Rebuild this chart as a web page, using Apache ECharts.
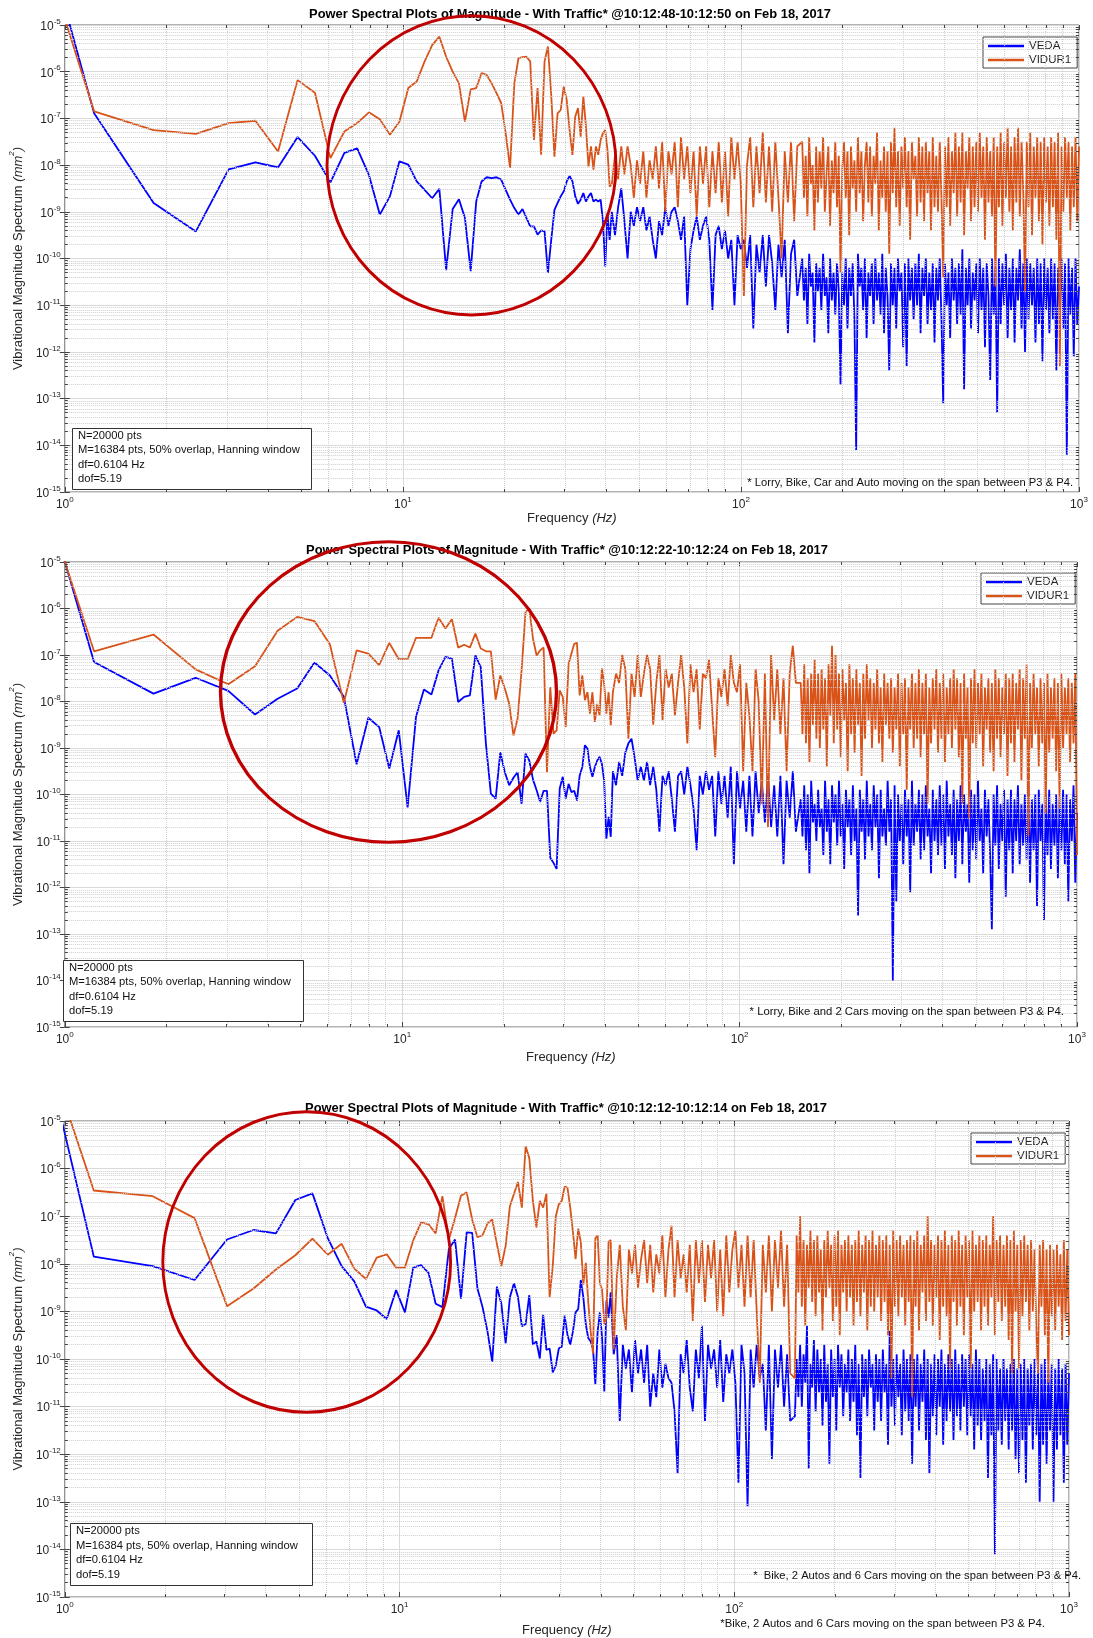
<!DOCTYPE html>
<html>
<head>
<meta charset="utf-8">
<title>Power Spectral Plots of Magnitude</title>
<script src="https://cdn.jsdelivr.net/npm/echarts/dist/echarts.min.js"></script>
<style>
html, body { margin: 0; padding: 0; background: #fff; }
#psd { width: 1093px; height: 1638px; }
</style>
</head>
<body>
<div id="psd"></div>
<script>
// frequency resolution of the Welch PSD (Hz), bin k sits at k*df
var df = 0.6104
// the dense part is split at this frequency (Hz)
var splitHz = 150

// log10 of the PSD (mm^2)
// Low: one value per bin k = 1, 2, 3 ... (resolved part of the curve)
// Mid: next bin up to 150 Hz, Top: 150 Hz to 1 kHz (both evenly spaced on the log axis)
var p1VedaLow = [1.05, -6.89, -8.81, -9.42, -8.09, -7.94, -8.05, -7.40, -7.80, -8.37,
    -7.74, -7.64, -8.21, -9.06, -8.67, -7.92, -7.99, -8.35, -8.53, -8.71,
    -8.51, -10.25, -8.94, -8.73, -9.13, -10.27, -8.78, -8.35, -8.26, -8.28,
    -8.26, -8.31, -8.53, -8.74, -8.92, -9.06, -8.94, -9.13, -9.31, -9.31,
    -9.49, -9.40, -9.42, -10.31, -9.60, -8.96, -8.81, -8.67, -8.56, -8.35,
    -8.23, -8.35, -8.67, -8.83, -8.74, -8.60, -8.78, -8.67, -8.60, -8.78,
    -8.74, -8.78, -8.74, -9.20, -10.17, -9.03, -9.60]
var p1VidurLow = [0.03, -6.85, -7.25, -7.33, -7.10, -7.05, -7.71, -6.18, -6.45, -7.85,
    -7.28, -7.10, -6.87, -7.02, -7.35, -7.07, -6.35, -6.21, -5.78, -5.43,
    -5.25, -5.68, -6.00, -6.25, -7.07, -6.38, -6.35, -6.03, -6.07, -6.25,
    -6.46, -6.67, -7.32, -8.06, -6.25, -5.71, -5.69, -5.68, -5.78, -7.46,
    -6.35, -7.78, -5.78, -5.46, -6.50, -7.82, -6.89, -6.82, -6.32, -6.60,
    -7.25, -7.78, -6.96, -6.78, -7.39, -6.53, -7.17, -8.03, -7.60, -8.10,
    -7.60, -7.78, -7.46, -7.32, -7.25, -7.67, -8.46]
var p1VedaMid = [-9.0, -9.5, -8.9, -8.5, -9.2, -10.0, -9.0, -9.3, -8.9, -9.2,
    -8.9, -9.4, -9.1, -9.6, -10.0, -9.2, -9.5, -8.9, -9.3, -9.0,
    -8.9, -9.2, -9.6, -9.1, -11.0, -9.8, -9.4, -9.1, -9.6, -9.3,
    -9.1, -9.6, -11.1, -9.5, -9.3, -9.8, -9.4, -10.0, -9.6, -11.0,
    -9.5, -9.8, -9.6, -10.2, -9.5, -11.5, -9.7, -10.3, -9.5, -10.6,
    -9.5, -10.1, -11.1, -9.7, -10.4, -9.6, -11.6, -9.9, -9.6, -10.8]
var p1VidurMid = [-8.4, -7.8, -8.3, -7.6, -8.2, -7.6, -8.0, -8.7, -7.9, -8.4,
    -7.7, -8.7, -7.9, -8.3, -7.6, -8.5, -7.5, -9.0, -7.7, -8.2,
    -7.5, -8.9, -7.4, -8.3, -7.6, -8.6, -7.7, -9.1, -7.6, -8.4,
    -7.6, -8.9, -7.7, -8.6, -7.5, -8.8, -7.7, -9.1, -7.4, -8.3,
    -7.5, -8.4, -10.8, -8.0, -7.4, -8.9, -7.6, -8.6, -7.3, -8.8,
    -7.6, -9.0, -7.5, -8.7, -10.0, -7.7, -8.8, -7.5, -9.2, -7.6]
var p1VedaTop = [-10.0, -10.9, -10.2, -11.4, -9.9, -10.6, -10.3, -11.8, -10.1, -10.7,
    -10.2, -11.1, -9.9, -10.8, -10.4, -11.6, -10.0, -10.9, -10.3, -11.2,
    -10.1, -10.7, -12.7, -10.3, -11.0, -10.0, -11.5, -10.2, -10.8, -10.1,
    -11.3, -14.1, -9.9, -10.6, -10.2, -11.1, -10.0, -11.7, -10.3, -10.8,
    -10.1, -11.4, -10.0, -10.9, -10.3, -11.2, -9.9, -11.6, -10.2, -10.8,
    -12.4, -10.1, -11.0, -10.2, -11.5, -10.0, -10.7, -10.3, -11.9, -10.1,
    -12.3, -10.0, -10.9, -10.2, -11.3, -10.1, -11.0, -9.9, -11.6, -10.2,
    -10.8, -10.0, -11.4, -10.3, -11.1, -10.1, -11.8, -10.2, -10.9, -10.0,
    -11.3, -13.1, -10.1, -11.0, -10.3, -11.7, -10.0, -10.9, -10.2, -11.4,
    -10.1, -11.2, -9.8, -12.8, -10.2, -11.0, -10.0, -11.5, -10.3, -10.9,
    -10.1, -11.6, -10.0, -11.1, -10.2, -11.9, -10.1, -10.8, -12.6, -10.0,
    -11.2, -10.2, -13.3, -10.0, -11.4, -10.1, -11.0, -9.9, -11.7, -10.2,
    -11.1, -10.0, -11.8, -10.2, -10.9, -9.8, -11.5, -10.1, -12.0, -10.0,
    -11.3, -10.1, -11.0, -10.2, -11.8, -10.0, -11.4, -10.1, -12.2, -10.0,
    -11.1, -10.2, -11.6, -10.0, -11.3, -10.1, -12.4, -10.2, -11.0, -10.0,
    -11.5, -10.1, -14.2, -10.0, -11.2, -10.2, -12.1, -10.0, -11.4, -10.6]
var p1VidurTop = [-7.5, -8.7, -7.8, -9.1, -7.4, -8.4, -8.0, -9.4, -7.6, -8.8,
    -7.7, -8.5, -7.4, -9.0, -8.2, -7.6, -9.3, -7.9, -8.6, -7.5,
    -8.9, -7.8, -10.3, -8.1, -7.5, -8.7, -7.7, -9.5, -7.6, -8.5,
    -7.9, -9.0, -7.4, -8.6, -7.7, -9.2, -8.0, -7.5, -8.8, -7.6,
    -9.1, -7.8, -8.4, -7.3, -9.4, -7.9, -8.7, -7.6, -9.0, -7.7,
    -9.9, -7.5, -8.6, -7.2, -8.9, -7.7, -9.3, -7.6, -8.5, -7.4,
    -8.9, -7.7, -9.6, -7.5, -8.3, -7.8, -9.1, -7.4, -8.8, -7.6,
    -9.2, -7.5, -8.6, -7.7, -9.4, -7.4, -8.9, -7.8, -9.0, -7.5,
    -8.7, -10.4, -7.6, -8.9, -7.4, -9.3, -7.7, -8.6, -7.3, -9.1,
    -7.6, -8.8, -7.3, -9.5, -7.7, -8.5, -7.4, -9.2, -7.6, -8.9,
    -7.5, -9.0, -7.3, -8.7, -7.6, -9.6, -7.4, -8.8, -7.7, -9.1,
    -7.4, -10.6, -7.6, -8.9, -7.3, -9.3, -7.5, -8.7, -7.2, -9.0,
    -7.6, -9.4, -7.4, -8.8, -7.2, -9.1, -7.5, -8.6, -10.7, -7.5,
    -8.9, -7.3, -9.5, -7.6, -8.7, -7.4, -9.2, -7.5, -9.7, -7.4,
    -8.8, -7.6, -9.3, -7.4, -8.9, -7.5, -9.6, -7.3, -12.3, -7.6,
    -9.0, -7.4, -8.7, -7.5, -9.4, -7.6, -8.9, -7.4, -9.2, -7.6]

var p2VedaLow = [0.34, -7.15, -7.83, -7.49, -7.77, -8.28, -7.94, -7.72, -7.16, -7.44,
    -7.90, -9.35, -8.35, -8.55, -9.44, -8.62, -10.28, -8.33, -7.74, -7.85,
    -7.33, -7.04, -7.08, -8.01, -7.90, -7.87, -7.01, -7.26, -8.90, -9.98,
    -10.09, -9.09, -9.52, -9.80, -9.64, -9.52, -10.20, -9.12, -9.27, -9.68,
    -9.91, -10.16, -9.92, -9.92, -11.36, -11.47, -11.60, -9.87, -9.62, -10.09,
    -9.77, -9.95, -9.92, -10.13, -9.59, -9.41, -8.94, -9.01, -9.41, -9.62,
    -9.41, -9.27, -9.19, -9.34, -9.70, -10.95, -10.48, -10.91]
var p2VidurLow = [-0.23, -6.92, -6.56, -7.31, -7.63, -7.24, -6.48, -6.18, -6.27, -6.77,
    -8.03, -6.90, -6.97, -7.22, -6.74, -7.09, -7.09, -6.63, -6.63, -6.63,
    -6.20, -6.43, -6.23, -6.84, -6.78, -6.84, -6.54, -6.86, -6.92, -6.92,
    -7.96, -7.44, -7.72, -8.05, -8.73, -8.37, -7.33, -6.08, -6.00, -6.65,
    -7.01, -6.90, -6.84, -9.52, -7.69, -8.69, -8.62, -7.76, -7.90, -8.55,
    -7.19, -6.97, -6.76, -6.74, -7.87, -7.44, -7.97, -7.80, -8.26, -7.80,
    -8.44, -8.05, -8.30, -7.29, -7.62, -8.26, -7.80, -8.51]
var p2VedaMid = [-9.5, -9.8, -9.3, -9.6, -9.1, -8.9, -8.8, -9.2, -9.7, -9.4,
    -9.7, -9.3, -9.8, -9.4, -9.9, -10.8, -9.6, -9.8, -9.5, -10.1,
    -10.8, -9.6, -9.5, -10.0, -9.4, -9.8, -10.3, -11.2, -9.6, -10.0,
    -9.5, -9.9, -9.6, -10.9, -9.5, -10.2, -9.6, -10.5, -9.4, -11.5,
    -9.5, -10.3, -9.7, -10.8, -9.6, -10.9, -9.5, -10.4, -9.7, -10.6,
    -9.6, -10.7, -9.8, -10.9, -9.6, -11.5, -9.7, -10.5, -9.5, -10.8]
var p2VidurMid = [-7.8, -7.4, -7.6, -7.0, -7.3, -8.8, -7.4, -7.9, -7.0, -7.9,
    -7.4, -7.0, -7.3, -8.5, -7.6, -7.0, -8.4, -7.3, -7.7, -7.4,
    -8.3, -7.6, -7.0, -7.7, -8.9, -7.2, -7.8, -7.3, -8.6, -7.4,
    -7.5, -7.1, -8.2, -9.2, -7.5, -7.9, -7.3, -8.1, -7.0, -7.6,
    -7.8, -7.2, -9.5, -7.6, -8.3, -9.5, -7.3, -8.0, -10.2, -7.4,
    -10.7, -7.0, -8.4, -7.3, -8.7, -7.5, -9.5, -7.4, -6.8, -7.6]
var p2VedaTop = [-10.1, -10.9, -9.8, -11.2, -10.0, -11.7, -9.7, -10.6, -10.2, -11.0,
    -9.9, -10.7, -10.3, -11.3, -9.7, -10.8, -10.1, -11.5, -9.8, -10.6,
    -10.0, -11.1, -9.7, -10.9, -10.2, -11.6, -9.9, -10.7, -10.1, -11.3,
    -9.8, -11.0, -10.3, -12.6, -9.9, -10.8, -10.1, -11.4, -9.7, -10.9,
    -10.2, -11.2, -9.8, -10.7, -10.0, -11.8, -9.9, -10.9, -10.3, -11.1,
    -9.7, -10.8, -10.1, -14.0, -9.8, -12.3, -10.0, -11.0, -10.2, -11.5,
    -9.9, -10.9, -10.1, -12.1, -9.7, -11.1, -10.2, -10.8, -9.9, -11.4,
    -10.0, -11.2, -9.8, -10.9, -10.3, -11.7, -9.9, -11.0, -10.1, -11.3,
    -9.8, -11.1, -10.0, -11.6, -9.7, -10.9, -10.2, -11.3, -9.9, -11.8,
    -10.1, -11.0, -9.8, -11.5, -10.0, -10.8, -10.2, -11.9, -9.9, -11.2,
    -10.0, -11.4, -9.7, -11.0, -10.3, -11.7, -9.9, -10.9, -10.1, -11.3,
    -12.9, -10.0, -11.1, -9.8, -11.6, -10.2, -11.0, -9.9, -12.2, -10.1,
    -11.2, -9.9, -11.7, -10.1, -11.0, -9.8, -11.5, -10.2, -11.1, -10.0,
    -11.4, -9.8, -11.9, -10.1, -11.2, -10.0, -12.4, -9.9, -11.0, -10.2,
    -12.7, -10.0, -11.3, -9.9, -11.6, -10.2, -11.1, -10.0, -11.8, -10.1,
    -11.2, -9.9, -11.5, -10.0, -12.3, -10.1, -11.0, -9.8, -11.9, -10.4]
var p2VidurTop = [-7.6, -8.7, -7.2, -8.9, -7.5, -9.3, -7.4, -8.5, -7.1, -8.8,
    -7.4, -9.0, -7.3, -8.6, -7.5, -9.4, -7.2, -8.3, -6.8, -8.9,
    -7.0, -8.6, -7.4, -9.2, -7.3, -8.4, -7.6, -9.5, -7.2, -8.7,
    -7.5, -9.1, -7.3, -8.5, -7.6, -9.6, -7.4, -8.8, -7.2, -8.4,
    -7.5, -9.0, -7.6, -8.6, -7.3, -8.9, -7.7, -9.3, -7.4, -8.5,
    -7.6, -8.8, -7.5, -9.1, -7.7, -8.6, -7.4, -9.4, -7.6, -8.7,
    -7.5, -9.9, -7.7, -8.6, -7.4, -9.0, -7.6, -8.8, -7.3, -9.2,
    -7.6, -8.7, -7.4, -10.2, -7.7, -8.9, -7.5, -8.6, -7.3, -9.1,
    -7.6, -8.8, -7.4, -9.3, -7.7, -8.7, -7.5, -9.0, -7.3, -8.6,
    -7.5, -9.2, -7.6, -10.2, -7.4, -8.8, -7.7, -10.5, -7.5, -8.9,
    -7.3, -9.0, -7.6, -8.7, -7.4, -9.4, -7.7, -8.6, -7.5, -9.1,
    -7.6, -9.5, -7.3, -8.8, -7.5, -9.2, -7.7, -8.7, -7.4, -9.6,
    -7.5, -8.9, -7.4, -9.3, -7.6, -8.6, -7.3, -9.7, -7.5, -8.8,
    -7.2, -10.9, -7.6, -9.0, -7.4, -8.7, -7.7, -9.4, -7.5, -8.9,
    -7.6, -10.4, -7.4, -9.1, -7.7, -8.8, -7.5, -9.5, -7.6, -10.3,
    -7.4, -9.0, -7.7, -8.7, -7.5, -9.3, -7.6, -8.9, -7.4, -11.3]

var p3VedaLow = [1.14, -7.85, -8.05, -8.34, -7.49, -7.29, -7.36, -6.66, -6.52, -7.46,
    -8.05, -8.37, -8.90, -8.98, -9.16, -8.55, -9.02, -8.08, -8.03, -8.19,
    -8.84, -8.91, -7.69, -7.49, -8.73, -7.34, -7.35, -8.52, -8.91, -9.42,
    -10.06, -8.48, -8.84, -9.67, -8.70, -8.41, -8.70, -9.31, -9.27, -8.66,
    -9.70, -9.63, -9.99, -9.07, -9.81, -9.78, -10.28, -10.14, -9.78, -9.74,
    -9.09, -9.49, -9.70, -9.42, -9.02, -8.95, -8.34, -8.70, -9.27, -9.56,
    -9.63, -9.78, -10.53, -9.42, -9.02, -9.56, -10.68, -8.77, -9.13]
var p3VidurLow = [-0.11, -6.46, -6.58, -7.04, -8.89, -8.52, -8.12, -7.82, -7.47, -7.81,
    -7.58, -8.10, -8.32, -7.87, -7.80, -8.08, -8.08, -7.51, -7.13, -7.17,
    -7.36, -6.58, -7.49, -7.04, -6.57, -6.50, -7.07, -7.44, -7.40, -7.15,
    -7.07, -7.58, -8.05, -7.62, -6.79, -6.53, -6.28, -6.82, -5.53, -5.78,
    -6.68, -7.24, -6.68, -6.82, -6.53, -8.70, -8.05, -7.00, -6.75, -6.68,
    -6.38, -6.40, -6.82, -7.33, -7.90, -7.26, -7.54, -8.44, -7.98, -8.80,
    -9.42, -9.89, -7.47, -7.40, -8.41, -8.55, -9.27, -9.13, -7.54]
var p3VedaMid = [-8.6, -9.9, -9.5, -11.3, -9.7, -10.2, -9.8, -10.7, -9.6, -10.3,
    -9.8, -10.5, -9.7, -11.0, -10.3, -10.8, -9.8, -10.6, -10.1, -10.4,
    -10.5, -11.1, -12.4, -9.9, -10.3, -9.6, -10.6, -11.1, -9.8, -10.4,
    -9.3, -11.3, -9.7, -10.2, -9.8, -10.6, -9.6, -10.9, -9.9, -10.3,
    -9.8, -10.5, -12.6, -9.7, -10.3, -13.1, -9.8, -10.6, -9.7, -10.4,
    -10.1, -11.5, -9.7, -12.1, -9.8, -10.6, -9.7, -11.0, -9.9, -11.3]
var p3VidurMid = [-7.5, -9.8, -8.3, -7.6, -8.9, -9.4, -7.7, -8.2, -7.6, -8.5,
    -7.9, -7.5, -8.4, -7.6, -8.6, -7.8, -8.2, -7.4, -8.7, -7.7,
    -7.2, -8.7, -7.5, -8.3, -7.8, -8.6, -7.6, -9.2, -7.5, -8.4,
    -7.5, -8.8, -7.6, -8.3, -7.5, -9.0, -7.7, -9.1, -7.4, -8.6,
    -7.7, -7.3, -8.5, -7.6, -8.9, -7.4, -8.7, -7.5, -9.0, -10.5,
    -7.6, -8.6, -7.4, -9.0, -7.5, -8.5, -7.3, -8.9, -7.6, -10.3]
var p3VedaTop = [-11.2, -10.0, -10.8, -9.7, -11.0, -9.9, -10.5, -9.3, -12.3, -10.1,
    -10.6, -9.6, -11.1, -9.8, -10.7, -10.0, -11.4, -9.7, -10.9, -10.1,
    -12.2, -9.8, -10.8, -10.0, -11.5, -9.7, -10.6, -9.9, -11.2, -10.1,
    -10.7, -9.8, -11.3, -10.0, -10.9, -9.7, -11.6, -10.1, -12.5, -9.9,
    -10.8, -10.0, -11.2, -9.8, -10.6, -10.1, -11.5, -9.9, -10.9, -10.0,
    -11.3, -9.8, -10.7, -10.1, -11.8, -9.4, -11.0, -10.0, -11.4, -9.9,
    -10.8, -10.1, -11.6, -9.8, -11.1, -10.0, -11.3, -9.9, -12.2, -10.0,
    -11.0, -9.9, -11.5, -10.1, -10.9, -9.8, -11.7, -10.0, -12.4, -10.1,
    -11.2, -9.9, -11.6, -10.0, -11.0, -9.8, -11.8, -10.1, -11.3, -9.9,
    -11.1, -10.0, -11.7, -9.8, -11.2, -10.1, -11.5, -9.9, -11.0, -10.0,
    -11.6, -9.9, -11.2, -10.1, -11.9, -9.8, -11.4, -10.0, -11.7, -10.2,
    -11.3, -10.0, -12.5, -10.1, -11.6, -9.9, -14.1, -10.0, -11.5, -10.2,
    -11.8, -10.0, -11.3, -10.2, -11.9, -10.1, -11.5, -10.0, -12.1, -10.2,
    -12.4, -10.1, -11.7, -10.0, -12.6, -10.2, -11.4, -10.1, -11.9, -10.0,
    -11.6, -10.2, -13.0, -10.1, -11.8, -10.0, -12.2, -10.2, -11.5, -10.1,
    -13.0, -10.2, -11.9, -10.0, -11.6, -10.2, -12.6, -10.1, -11.8, -10.3]
var p3VidurTop = [-10.4, -7.4, -8.6, -7.0, -8.9, -7.5, -9.3, -7.6, -8.5, -7.3,
    -8.8, -7.5, -9.1, -7.4, -8.6, -7.7, -9.4, -7.5, -8.7, -7.3,
    -8.5, -7.6, -9.2, -7.4, -8.9, -7.3, -9.5, -7.6, -8.6, -7.5,
    -9.0, -7.4, -8.7, -7.6, -9.3, -7.5, -8.8, -7.3, -9.1, -7.6,
    -8.6, -7.4, -9.4, -7.5, -8.9, -7.3, -9.0, -7.6, -8.7, -7.4,
    -9.2, -7.5, -8.8, -7.4, -9.5, -7.6, -10.4, -7.3, -8.9, -7.5,
    -9.1, -7.4, -8.7, -7.6, -9.3, -7.5, -8.8, -7.4, -10.8, -7.5,
    -8.9, -7.3, -9.4, -7.6, -8.6, -7.4, -9.2, -7.0, -8.8, -7.5,
    -9.3, -7.6, -8.7, -7.4, -9.6, -7.5, -8.9, -7.3, -9.1, -7.6,
    -10.2, -7.4, -8.8, -7.5, -9.3, -7.3, -8.9, -7.6, -9.5, -7.4,
    -8.7, -7.5, -10.2, -7.3, -9.0, -7.6, -8.8, -7.4, -9.4, -7.5,
    -8.9, -7.4, -9.3, -7.6, -8.7, -7.0, -9.5, -7.5, -8.8, -7.4,
    -9.2, -7.6, -8.9, -7.4, -9.6, -7.5, -10.3, -7.3, -9.0, -7.6,
    -10.2, -7.5, -9.1, -7.4, -8.8, -7.6, -9.4, -7.5, -9.0, -7.7,
    -9.3, -10.3, -7.6, -8.9, -7.5, -9.5, -7.7, -10.5, -7.6, -9.1,
    -7.7, -9.4, -7.6, -8.9, -7.8, -9.6, -7.5, -9.2, -7.7, -9.5]

var titles = [
    'Power Spectral Plots of Magnitude - With Traffic* @10:12:48-10:12:50 on Feb 18, 2017',
    'Power Spectral Plots of Magnitude - With Traffic* @10:12:22-10:12:24 on Feb 18, 2017',
    'Power Spectral Plots of Magnitude - With Traffic* @10:12:12-10:12:14 on Feb 18, 2017'
]
var notes = [
    '* Lorry, Bike, Car and Auto moving on the span between P3 & P4.',
    '* Lorry, Bike and 2 Cars moving on the span between P3 & P4.',
    '*  Bike, 2 Autos and 6 Cars moving on the span between P3 & P4.'
]
var extraNote = '*Bike, 2 Autos and 6 Cars moving on the span between P3 & P4.'
var boxLines = ['N=20000 pts', 'M=16384 pts, 50% overlap, Hanning window', 'df=0.6104 Hz', 'dof=5.19']

var FONT = '"Liberation Sans", Arial, Helvetica, sans-serif'
var BLUE = '#0000ff'
var ORANGE = '#d95319'
var INK = '#262626'

// layout of the three stacked panels (px)
var grids = [
    { left: 60, top: 25, width: 1019, height: 467 },
    { left: 57, top: 562, width: 1020, height: 465 },
    { left: 60, top: 1121, width: 1009, height: 479 }
]
var layout = [
    { titleX: 570, titleY: 14, nameGap: 12, legend: [983, 37], box: [72, 428, 239, 61],
        noteX: 1073, noteY: 483, noteSize: 11.2, ring: [471.5, 165.3, 144.5, 149.6] },
    { titleX: 567, titleY: 550, nameGap: 20, legend: [981, 573], box: [63, 960, 240, 61],
        noteX: 1064, noteY: 1012, noteSize: 11.3, ring: [388.5, 692, 168, 150.3] },
    { titleX: 566, titleY: 1108, nameGap: 23, legend: [971, 1133], box: [70, 1523, 242, 62],
        noteX: 1081, noteY: 1576, noteSize: 11.2, ring: [306.7, 1262, 143.9, 150.3] }
]
var panels = [
    { veda: [p1VedaLow, p1VedaMid, p1VedaTop], vidur: [p1VidurLow, p1VidurMid, p1VidurTop] },
    { veda: [p2VedaLow, p2VedaMid, p2VedaTop], vidur: [p2VidurLow, p2VidurMid, p2VidurTop] },
    { veda: [p3VedaLow, p3VedaMid, p3VedaTop], vidur: [p3VidurLow, p3VidurMid, p3VidurTop] }
]

// [log10(f), log10(PSD)] pairs
function buildPoints (parts) {
    var low = parts[0]
    var mid = parts[1]
    var top = parts[2]
    var pts = []
    var i
    for (i = 0; i < low.length; i++) {
        pts.push([Math.log10((i + 1) * df), low[i]])
    }
    var x0 = Math.log10((low.length + 1) * df)
    var xm = Math.log10(splitHz)
    for (i = 0; i < mid.length; i++) {
        pts.push([x0 + (xm - x0) * i / mid.length, mid[i]])
    }
    for (i = 0; i < top.length; i++) {
        pts.push([xm + (3 - xm) * (i + 1) / top.length, top[i]])
    }
    return pts
}

var tickRich = {
    b: { fontFamily: FONT, fontSize: 12, color: INK, lineHeight: 15, verticalAlign: 'bottom' },
    s: { fontFamily: FONT, fontSize: 8, color: INK, lineHeight: 15, verticalAlign: 'top' }
}
var nameRich = {
    n: { fontFamily: FONT, fontSize: 13, color: INK, lineHeight: 17, verticalAlign: 'bottom' },
    i: { fontFamily: FONT, fontSize: 13, color: INK, fontStyle: 'italic', lineHeight: 17, verticalAlign: 'bottom' },
    s: { fontFamily: FONT, fontSize: 8, color: INK, fontStyle: 'italic', lineHeight: 17, verticalAlign: 'top' }
}
function powLabel (v) {
    return '{b|10}{s|' + v + '}'
}

var xAxes = []
var yAxes = []
var series = []
var legends = []
var elements = []

grids.forEach(function (g, i) {
    var lay = layout[i]
    var tick = { inside: true, length: 5, lineStyle: { color: '#444' } }
    xAxes.push({
        gridIndex: i, type: 'value', min: 0, max: 3, interval: 1,
        axisLine: { show: false }, axisTick: tick,
        axisLabel: { formatter: powLabel, rich: tickRich, margin: 4 },
        splitLine: { show: true, lineStyle: { color: '#dadada', width: 1 } },
        name: '{n|Frequency }{i|(Hz)}', nameLocation: 'middle', nameGap: lay.nameGap,
        nameTextStyle: { rich: nameRich }
    })
    xAxes.push({
        gridIndex: i, type: 'value', position: 'top', min: 0, max: 3, interval: 1,
        axisLine: { show: false }, axisTick: tick, axisLabel: { show: false }, splitLine: { show: false }
    })
    yAxes.push({
        gridIndex: i, type: 'value', min: -15, max: -5, interval: 1,
        axisLine: { show: false }, axisTick: tick,
        axisLabel: { formatter: powLabel, rich: tickRich, margin: 4 },
        splitLine: { show: true, lineStyle: { color: '#dadada', width: 1 } },
        name: '{n|Vibrational Magnitude Spectrum }{i|(mm}{s|2}{i|)}', nameLocation: 'middle', nameGap: 32,
        nameRotate: 90, nameTextStyle: { rich: nameRich }
    })
    yAxes.push({
        gridIndex: i, type: 'value', position: 'right', min: -15, max: -5, interval: 1,
        axisLine: { show: false }, axisTick: tick, axisLabel: { show: false }, splitLine: { show: false }
    })

    // dotted minor grid and short minor ticks at 2..9 of every decade
    var tx = 3 / (g.width / 3)
    var ty = 3 / (g.height / 10)
    var minorGrid = []
    var minorTicks = []
    var d, m, v
    for (d = 0; d < 3; d++) {
        for (m = 2; m <= 9; m++) {
            v = d + Math.log10(m)
            minorGrid.push({ xAxis: v })
            minorTicks.push([{ coord: [v, -15] }, { coord: [v, -15 + ty] }])
            minorTicks.push([{ coord: [v, -5] }, { coord: [v, -5 - ty] }])
        }
    }
    for (d = -15; d < -5; d++) {
        for (m = 2; m <= 9; m++) {
            v = d + Math.log10(m)
            minorGrid.push({ yAxis: v })
            minorTicks.push([{ coord: [0, v] }, { coord: [tx, v] }])
            minorTicks.push([{ coord: [3, v] }, { coord: [3 - tx, v] }])
        }
    }
    series.push({
        type: 'line', name: 'minor grid', xAxisIndex: 2 * i, yAxisIndex: 2 * i, data: [], silent: true, z: 1,
        markLine: { silent: true, animation: false, symbol: ['none', 'none'], label: { show: false },
            lineStyle: { color: '#cfcfcf', type: 'dotted', width: 1 }, data: minorGrid }
    })
    series.push({
        name: 'VEDA', type: 'line', xAxisIndex: 2 * i, yAxisIndex: 2 * i,
        data: buildPoints(panels[i].veda),
        showSymbol: false, symbol: 'none', silent: true, z: 3,
        lineStyle: { color: BLUE, width: 1.8 }, itemStyle: { color: BLUE }
    })
    series.push({
        name: 'VIDUR1', type: 'line', xAxisIndex: 2 * i, yAxisIndex: 2 * i,
        data: buildPoints(panels[i].vidur),
        showSymbol: false, symbol: 'none', silent: true, z: 4,
        lineStyle: { color: ORANGE, width: 1.8 }, itemStyle: { color: ORANGE }
    })
    series.push({
        type: 'line', name: 'minor ticks', xAxisIndex: 2 * i, yAxisIndex: 2 * i, data: [], silent: true, z: 5,
        markLine: { silent: true, animation: false, symbol: ['none', 'none'], label: { show: false },
            lineStyle: { color: '#444', type: 'solid', width: 1 }, data: minorTicks }
    })

    legends.push({
        left: lay.legend[0], top: lay.legend[1], orient: 'vertical', data: ['VEDA', 'VIDUR1'],
        icon: 'rect', itemWidth: 36, itemHeight: 2.5, itemGap: 2, padding: [3, 6, 2, 5],
        backgroundColor: '#fff', borderColor: '#444', borderWidth: 1, selectedMode: false,
        textStyle: { fontFamily: FONT, fontSize: 11.5, color: INK }
    })

    elements.push({
        type: 'text', x: lay.titleX, y: lay.titleY, z: 50,
        style: { text: titles[i], font: 'bold 12.9px ' + FONT, fill: '#000',
            align: 'center', verticalAlign: 'middle', textAlign: 'center', textVerticalAlign: 'middle' }
    })
    var b = lay.box
    elements.push({
        type: 'rect', z: 50, shape: { x: b[0] + 0.5, y: b[1] + 0.5, width: b[2], height: b[3] },
        style: { fill: '#fff', stroke: '#333', lineWidth: 1 }
    })
    elements.push({
        type: 'text', x: b[0] + 6, y: b[1] + 1, z: 51,
        style: { text: boxLines.join('\n'), font: '11.2px ' + FONT, fill: '#111', lineHeight: b[3] / 4.3,
            align: 'left', verticalAlign: 'top', textAlign: 'left', textVerticalAlign: 'top' }
    })
    elements.push({
        type: 'text', x: lay.noteX, y: lay.noteY, z: 50,
        style: { text: notes[i], font: lay.noteSize + 'px ' + FONT, fill: '#111',
            align: 'right', verticalAlign: 'middle', textAlign: 'right', textVerticalAlign: 'middle' }
    })
    var r = lay.ring
    elements.push({
        type: 'circle', x: r[0], y: r[1], scaleX: r[2] / r[3], z: 60,
        shape: { cx: 0, cy: 0, r: r[3] },
        style: { fill: null, stroke: '#c00000', lineWidth: 3, strokeNoScale: true }
    })
})

elements.push({
    type: 'text', x: 1045, y: 1624, z: 50,
    style: { text: extraNote, font: '11.3px ' + FONT, fill: '#111',
        align: 'right', verticalAlign: 'middle', textAlign: 'right', textVerticalAlign: 'middle' }
})

var myChart = echarts.init(document.getElementById('psd'))
var option = {
    backgroundColor: '#fff',
    animation: false,
    grid: grids.map(function (g) {
        return { left: g.left, top: g.top, width: g.width, height: g.height, show: true,
            borderColor: '#666', borderWidth: 1, backgroundColor: '#fff' }
    }),
    xAxis: xAxes,
    yAxis: yAxes,
    legend: legends,
    series: series,
    graphic: { elements: elements }
}
myChart.setOption(option)
window.addEventListener('resize', function () {
    myChart.resize()
})
</script>
</body>
</html>
